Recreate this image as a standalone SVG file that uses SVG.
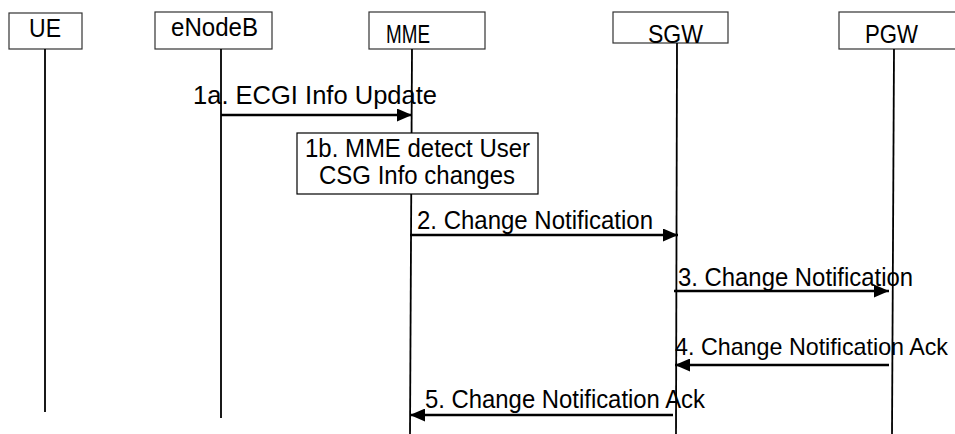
<svg xmlns="http://www.w3.org/2000/svg" width="955" height="434" viewBox="0 0 955 434">
<style>
.box{fill:#fff;stroke:#333;stroke-width:1.2}
.life{stroke:#000;stroke-width:1.8;fill:none}
.msg{stroke:#000;stroke-width:2.5;fill:none}
text{font-family:"Liberation Sans",Arial,sans-serif;font-size:25px;fill:#000}
</style>
<defs>
<marker id="ah" markerWidth="16" markerHeight="13" refX="15" refY="6.5" orient="auto" markerUnits="userSpaceOnUse">
<path d="M0,0 L15,6.5 L0,13 Z" fill="#000"/>
</marker>
</defs>
<g id="UE">
<rect class="box" x="9" y="13" width="73" height="36"/>
<text x="29" y="37" textLength="32" lengthAdjust="spacingAndGlyphs">UE</text>
<line class="life" x1="45" y1="49" x2="45" y2="412"/>
</g>
<g id="eNodeB">
<rect class="box" x="155" y="12" width="117" height="37"/>
<text x="171" y="36" textLength="87" lengthAdjust="spacingAndGlyphs">eNodeB</text>
<line class="life" x1="221" y1="49" x2="221" y2="418"/>
</g>
<g id="MME">
<rect class="box" x="369" y="12" width="116" height="37"/>
<text x="386" y="43" textLength="44" lengthAdjust="spacingAndGlyphs">MME</text>
<line class="life" x1="412" y1="49" x2="410" y2="434"/>
</g>
<g id="SGW">
<rect class="box" x="613" y="12" width="115" height="31"/>
<text x="648" y="43" textLength="55" lengthAdjust="spacingAndGlyphs">SGW</text>
<line class="life" x1="677" y1="43" x2="676" y2="434"/>
</g>
<g id="PGW">
<rect class="box" x="839" y="12" width="120" height="37"/>
<text x="865" y="43" textLength="53" lengthAdjust="spacingAndGlyphs">PGW</text>
<line class="life" x1="894" y1="49" x2="892" y2="434"/>
</g>
<g id="connectors">
<line class="msg" x1="221" y1="115" x2="412" y2="115" marker-end="url(#ah)"/>
<text x="193" y="104" textLength="244" lengthAdjust="spacingAndGlyphs">1a. ECGI Info Update</text>
<line class="msg" x1="410" y1="235" x2="678" y2="235" marker-end="url(#ah)"/>
<text x="417" y="229" textLength="236" lengthAdjust="spacingAndGlyphs">2. Change Notification</text>
<line class="msg" x1="674" y1="291" x2="889" y2="291" marker-end="url(#ah)"/>
<text x="678" y="286" textLength="235" lengthAdjust="spacingAndGlyphs">3. Change Notification</text>
<line class="msg" x1="889" y1="365" x2="675" y2="365" marker-end="url(#ah)"/>
<text x="675" y="355" style="font-size:23.2px" textLength="273" lengthAdjust="spacingAndGlyphs">4. Change Notification Ack</text>
<line class="msg" x1="673" y1="415" x2="410" y2="415" marker-end="url(#ah)"/>
<text x="425" y="408" textLength="280" lengthAdjust="spacingAndGlyphs">5. Change Notification Ack</text>
</g>
<g id="step1b">
<rect class="box" x="297" y="133" width="241" height="61" style="stroke:#000"/>
<text x="305" y="157" textLength="225" lengthAdjust="spacingAndGlyphs">1b. MME detect User</text>
<text x="319" y="184" textLength="196" lengthAdjust="spacingAndGlyphs">CSG Info changes</text>
</g>
</svg>
